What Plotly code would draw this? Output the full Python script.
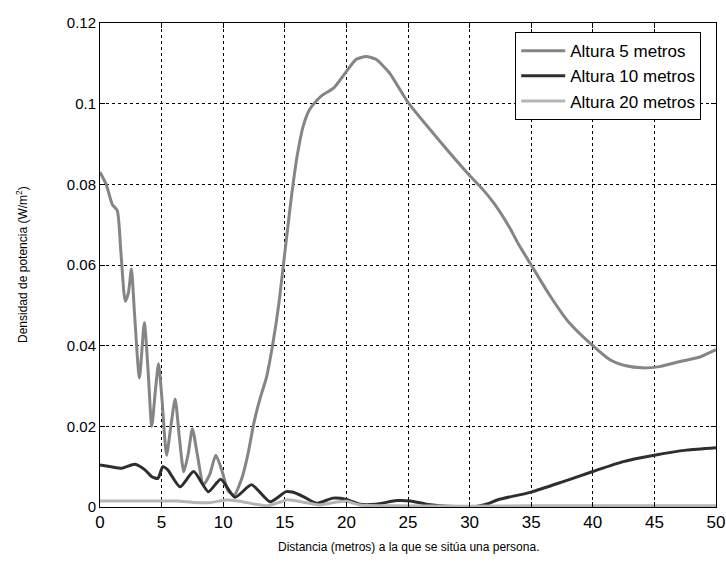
import plotly.graph_objects as go

# ---- data ----
x_5m = [0, 0.5, 1.0, 1.4, 1.7, 2.05, 2.3, 2.55, 2.8, 3.2, 3.6, 3.9, 4.2, 4.5, 4.75,
        5.05, 5.4, 5.75, 6.1, 6.45, 6.8, 7.15, 7.5, 7.9, 8.4, 8.9, 9.4, 9.9, 10.4,
        10.9, 11.5, 12.0, 12.5, 13.0, 13.5, 14.0, 14.5, 15.0, 15.5, 16.0, 16.5,
        17.0, 17.5, 18.0, 19.0, 20.0, 20.8, 21.6, 22.4, 23.5, 25.0, 27.5, 30.0,
        31.0, 32.0, 33.3, 34.0, 35.0, 36.5, 38.0, 40.0, 41.4, 42.7, 44.0, 45.4, 47.0,
        48.7, 50.0]
y_5m = [0.083, 0.080, 0.075, 0.0735, 0.063, 0.051, 0.053, 0.059, 0.048, 0.032, 0.0457,
        0.034, 0.020, 0.029, 0.0355, 0.026, 0.0128, 0.020, 0.0268, 0.017, 0.0087,
        0.013, 0.0194, 0.013, 0.0055, 0.008, 0.0128, 0.009, 0.004, 0.003, 0.007,
        0.013, 0.021, 0.027, 0.032, 0.040, 0.050, 0.063, 0.076, 0.087, 0.0945, 0.0985,
        0.1005, 0.102, 0.104, 0.108, 0.111, 0.1117, 0.111, 0.1076, 0.1003, 0.091,
        0.0822, 0.0790, 0.0752, 0.0690, 0.0650, 0.060, 0.0525, 0.046, 0.040, 0.0365,
        0.035, 0.0345, 0.0348, 0.036, 0.0372, 0.039]

x_10m = [0, 0.9, 1.75, 2.84, 3.65, 4.2, 4.7, 5.1, 5.5, 6.5, 7.6, 8.8, 9.8, 10.95,
         12.3, 13.8, 15.1, 15.6, 16.5, 17.6, 18.9, 20.0, 21.1, 22.4, 24.1, 25.2, 26.5,
         28.9, 30.5, 31.5, 32.3, 35.0, 37.6, 40.0, 42.4, 45.1, 47.6, 50.0]
y_10m = [0.0104, 0.0100, 0.0096, 0.0106, 0.0092, 0.0075, 0.0071, 0.0100, 0.0092,
         0.0050, 0.0088, 0.0038, 0.0069, 0.0024, 0.0055, 0.0013, 0.0038, 0.0037,
         0.0026, 0.0009, 0.0022, 0.0019, 0.0007, 0.0007, 0.0016, 0.0015, 0.0007,
         0.0001, 0.0001, 0.0008, 0.0018, 0.0037, 0.0063, 0.0088, 0.0112, 0.0129,
         0.0141, 0.0147]

x_20m = [0, 5.0, 6.3, 7.7, 9.0, 10.1, 11.2, 12.6, 13.6, 14.7, 15.2, 16.5, 17.8, 19.1,
         20.0, 21.1, 23.0, 30.0, 35.0, 40.0, 50.0]
y_20m = [0.0015, 0.0015, 0.0015, 0.0011, 0.0011, 0.0017, 0.0015, 0.0007, 0.0003,
         0.0013, 0.0018, 0.0012, 0.0005, 0.0012, 0.0014, 0.0005, 0.0003, 0.0002,
         0.0003, 0.0003, 0.0003]

names = ["Altura 5 metros", "Altura 10 metros", "Altura 20 metros"]
x_ticks = [0, 5, 10, 15, 20, 25, 30, 35, 40, 45, 50]
y_ticks = [0, 0.02, 0.04, 0.06, 0.08, 0.1, 0.12]
y_tick_text = ["0", "0.02", "0.04", "0.06", "0.08", "0.1", "0.12"]

FONT = "Liberation Sans, Arial, sans-serif"

fig = go.Figure()
fig.add_trace(go.Scatter(x=x_5m, y=y_5m, name=names[0], mode="lines",
                         line=dict(color="#858585", width=3, shape="spline", smoothing=0.6)))
fig.add_trace(go.Scatter(x=x_10m, y=y_10m, name=names[1], mode="lines",
                         line=dict(color="#2e2e2e", width=3, shape="spline", smoothing=0.6)))
fig.add_trace(go.Scatter(x=x_20m, y=y_20m, name=names[2], mode="lines",
                         line=dict(color="#b5b5b5", width=3, shape="spline", smoothing=0.6)))

axis_common = dict(
    showline=True, linecolor="black", linewidth=1, mirror="ticks",
    ticks="inside", ticklen=5, tickcolor="black",
    showgrid=True, gridcolor="black", griddash="dot", gridwidth=1,
    zeroline=False, automargin=False,
)

fig.update_xaxes(range=[0, 50], tickvals=x_ticks, ticktext=[str(v) for v in x_ticks],
                 tickfont=dict(family=FONT, size=17, color="black"), **axis_common)
fig.update_yaxes(range=[0, 0.12], tickvals=y_ticks, ticktext=y_tick_text,
                 tickfont=dict(family=FONT, size=15, color="black"), **axis_common)

fig.update_layout(
    width=726, height=565,
    margin=dict(l=100, r=10, t=23, b=58),
    paper_bgcolor="white", plot_bgcolor="white",
    font=dict(family=FONT, color="black"),
    showlegend=True,
    legend=dict(x=0.976, y=0.981, xanchor="right", yanchor="top",
                bgcolor="white", bordercolor="black", borderwidth=1,
                font=dict(family=FONT, size=17, color="black"),
                itemwidth=44, tracegroupgap=0),
    annotations=[
        dict(text="Distancia (metros) a la que se sitúa una persona.",
             xref="paper", yref="paper", x=0.5, y=0, yshift=-31,
             xanchor="center", yanchor="top", showarrow=False,
             font=dict(family=FONT, size=12, color="black")),
        dict(text="Densidad de potencia (W/m<sup>2</sup>)",
             xref="paper", yref="paper", x=0, xshift=-78, y=0.5,
             xanchor="center", yanchor="middle", textangle=-90, showarrow=False,
             font=dict(family=FONT, size=12, color="black")),
    ],
)

fig.write_html("out.html",
               config={"displayModeBar": False},
               post_script="document.body.style.margin='0';document.body.style.overflow='hidden';")
